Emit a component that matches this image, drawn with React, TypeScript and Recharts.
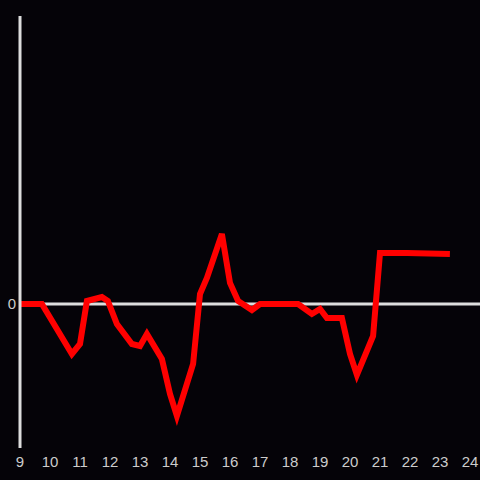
import { LineChart, Line, XAxis, YAxis, ReferenceLine } from "recharts";

const hours = [
  9.0, 9.73, 10.73, 11.0, 11.23, 11.73, 11.93, 12.23, 12.73, 13.0, 13.23, 13.73,
  14.0, 14.23, 14.77, 15.0, 15.23, 15.73, 16.0, 16.27, 16.73, 17.0, 18.27, 18.73,
  19.0, 19.23, 19.73, 20.0, 20.23, 20.77, 21.0, 21.9, 23.33,
];
const values = [
  0, 0, -50, -40, 3, 7, 3, -20, -40, -42, -30, -55,
  -90, -112, -60, 10, 26, 70, 21, 3, -6, 0, 0, -10,
  -5, -14, -14, -50, -71, -32, 51, 51, 50,
];
const xTicks = [9, 10, 11, 12, 13, 14, 15, 16, 17, 18, 19, 20, 21, 22, 23, 24];
const yTicks = [0];

const data = hours.map((h, i) => ({ h, v: values[i] }));

const AXIS = "#dddddd";
const TEXT = "#cccccc";

export default function App() {
  return (
    <div
      style={{
        position: "fixed",
        top: 0,
        left: 0,
        width: 480,
        height: 480,
        background: "#050308",
        fontFamily: "'Liberation Sans', Arial, sans-serif",
      }}
    >
      <LineChart
        width={480}
        height={480}
        data={data}
        margin={{ top: 16, right: 0, bottom: 0, left: 0 }}
      >
        <XAxis
          dataKey="h"
          type="number"
          domain={[9, 24 + 1 / 3]}
          ticks={xTicks}
          allowDataOverflow
          axisLine={false}
          tickLine={false}
          height={32}
          tick={{ fill: TEXT, fontSize: 15 }}
        />
        <YAxis
          type="number"
          domain={[-144, 288]}
          ticks={yTicks}
          width={20}
          axisLine={{ stroke: AXIS, strokeWidth: 3 }}
          tickLine={false}
          tickSize={4}
          tickMargin={0}
          tick={{ fill: TEXT, fontSize: 15 }}
        />
        <ReferenceLine y={0} stroke={AXIS} strokeWidth={3} />
        <Line
          dataKey="v"
          type="linear"
          stroke="#ff0000"
          strokeWidth={6}
          dot={false}
          isAnimationActive={false}
        />
      </LineChart>
    </div>
  );
}
